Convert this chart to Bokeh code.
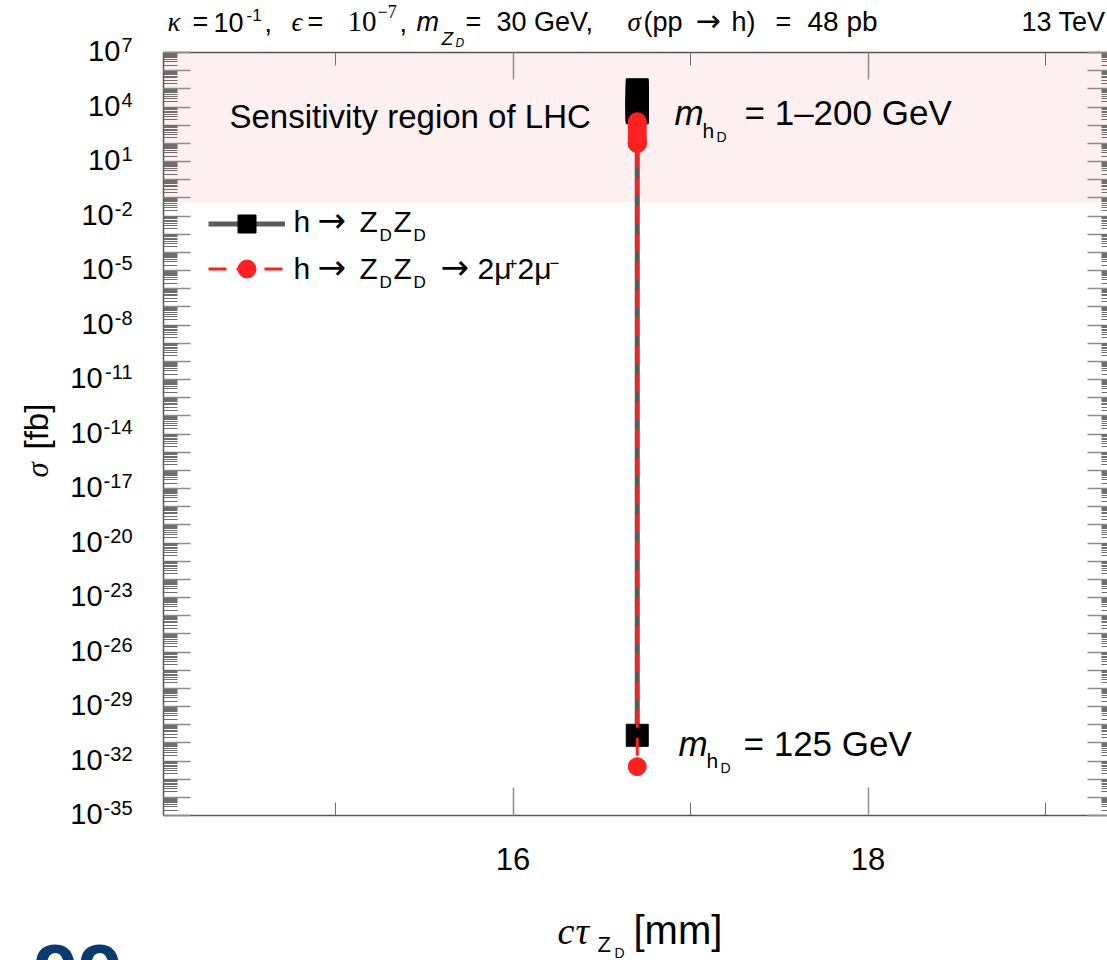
import math

from bokeh.plotting import figure
from bokeh.models import (Range1d, LinearAxis, LogAxis, FixedTicker, BoxAnnotation,
                          Label, Legend, LegendItem, CustomJSTickFormatter)
from bokeh.embed import file_html
from bokeh.resources import INLINE

# ---------------------------------------------------------------- data
# dark-Higgs mass scan at fixed kappa, epsilon and m_ZD (cτ of Z_D is constant)
m_hD_GeV = [1, 25, 50, 75, 100, 120, 125, 130, 150, 175, 200]
ctau_ZD_mm = [16.70, 16.70, 16.70, 16.70, 16.70, 16.70, 16.70, 16.70, 16.70, 16.70, 16.70]
sigma_h_ZDZD_fb = [8.9e4, 6.5e4, 4.2e4, 2.6e4, 1.4e4, 6.0e3, 2.6e-31, 5.8e3, 9.5e3, 7.0e3, 4.8e3]
sigma_h_4mu_fb = [1.55e3, 1.13e3, 7.3e2, 4.5e2, 2.4e2, 1.05e2, 4.9e-33, 1.0e2, 1.65e2, 1.2e2, 9.8e1]
lhc_sensitivity_fb = 0.055

x_major_ticks = [16, 18]
x_minor_ticks = [15, 17, 19]
y_decade_exponents = list(range(-35, 8))
y_labeled_exponents = [7, 4, 1, -2, -5, -8, -11, -14, -17, -20, -23, -26, -29, -32, -35]

# ---------------------------------------------------------------- geometry
# The frame spans the whole canvas; the axes sit at fixed locations so that
# every text (header, tick labels, axis titles) is drawn inside the frame.
W, H = 1107, 960
FL, FT, FB, FR = 163, 52, 815, 1111      # plot box edges in canvas px
X16_PX, PX_PER_UNIT = 512.5, 177.5
PX_PER_DECADE = (FB - FT) / 42.0
Y_BOTTOM, Y_TOP = 1e-35, 1e7
BASELINE_FIX = 0.42                      # em shift so labels sit on their baseline


def x_at(px):
    return 16 + (px - X16_PX) / PX_PER_UNIT


def y_at(px):
    return 10 ** (7 - (px - FT) / PX_PER_DECADE)


X_BOX_LEFT, X_BOX_RIGHT = x_at(FL), x_at(FR)

SANS = "Liberation Sans"
SERIF = "Liberation Serif"
ARROW = "DejaVu Sans"
AXIS_GREY = "#555555"
TICK_GREY = "#8c8c8c"

# approximate advance widths (em) for right-aligned exponents
EM = {"-": .333}

p = figure(width=W, height=H, x_range=Range1d(x_at(0), x_at(W)),
           y_range=Range1d(y_at(H), y_at(0)), y_axis_type="log",
           output_backend="svg", toolbar_location=None, min_border=0,
           outline_line_color=None, background_fill_color="white",
           border_fill_color="white")
p.xgrid.visible = False
p.ygrid.visible = False

x_ticker = FixedTicker(ticks=x_major_ticks, minor_ticks=x_minor_ticks)
y_ticker = FixedTicker(ticks=[10.0 ** e for e in y_decade_exponents],
                       minor_ticks=[m * 10.0 ** e for e in y_decade_exponents[:-1]
                                    for m in range(2, 10)])
no_labels = CustomJSTickFormatter(code="return ''")


def style_axis(ax, major_in, minor_in, show_line=True):
    ax.major_tick_in = major_in
    ax.major_tick_out = 0
    ax.minor_tick_in = minor_in
    ax.minor_tick_out = 0
    ax.major_tick_line_color = TICK_GREY
    ax.minor_tick_line_color = "#6e6e6e"
    ax.major_tick_line_width = 1.5
    ax.axis_line_color = AXIS_GREY if show_line else None
    ax.axis_line_width = 1.5


# bottom axis: labelled 16, 18
xb = p.xaxis[0]
xb.ticker = x_ticker
xb.fixed_location = Y_BOTTOM
xb.bounds = (X_BOX_LEFT, X_BOX_RIGHT)
style_axis(xb, 28, 13)
xb.major_label_text_font = SANS
xb.major_label_text_font_size = "31px"
xb.major_label_text_color = "black"
xb.major_label_standoff = 32

# left axis: decade ticks, labels drawn as 10^n text below
yl = p.yaxis[0]
yl.ticker = y_ticker
yl.formatter = no_labels
yl.fixed_location = X_BOX_LEFT
yl.bounds = (Y_BOTTOM, Y_TOP)
style_axis(yl, 27, 14)

top_axis = LinearAxis(ticker=x_ticker, formatter=no_labels, fixed_location=Y_TOP,
                      bounds=(X_BOX_LEFT, X_BOX_RIGHT))
style_axis(top_axis, 27, 13)
p.add_layout(top_axis, "above")

right_axis = LogAxis(ticker=y_ticker, formatter=no_labels, fixed_location=X_BOX_RIGHT,
                     bounds=(Y_BOTTOM, Y_TOP))
style_axis(right_axis, 24, 10, show_line=False)
p.add_layout(right_axis, "right")

# LHC sensitivity band
p.add_layout(BoxAnnotation(left=X_BOX_LEFT, right=X_BOX_RIGHT, bottom=lhc_sensitivity_fb,
                           top=Y_TOP, fill_color="#fef0f0", fill_alpha=1.0,
                           line_color=None, level="underlay"))

# series; the connecting lines run through the points ordered by cross section
zz_order = sorted(range(len(m_hD_GeV)), key=lambda i: -sigma_h_ZDZD_fb[i])
mu_order = sorted(range(len(m_hD_GeV)), key=lambda i: -sigma_h_4mu_fb[i])
r_zz_line = p.line([ctau_ZD_mm[i] for i in zz_order], [sigma_h_ZDZD_fb[i] for i in zz_order],
                   line_color="#5a5a5a", line_width=5)
r_zz_pts = p.scatter(ctau_ZD_mm, sigma_h_ZDZD_fb, marker="square", size=22,
                     fill_color="black", line_color="black")
r_mu_line = p.line([ctau_ZD_mm[i] for i in mu_order], [sigma_h_4mu_fb[i] for i in mu_order],
                   line_color="#ff2020", line_width=3, line_dash="18 10")
r_mu_pts = p.scatter(ctau_ZD_mm, sigma_h_4mu_fb, marker="circle", size=18,
                     fill_color="#ff2020", line_color="#ff2020")

legend = Legend(items=[LegendItem(label="", renderers=[r_zz_line, r_zz_pts]),
                       LegendItem(label="", renderers=[r_mu_line, r_mu_pts])],
                location=(208, H - 291), glyph_width=77, glyph_height=45,
                spacing=0, padding=0, margin=0, label_standoff=0,
                label_text_font_size="20px", border_line_alpha=0,
                background_fill_alpha=0)
p.add_layout(legend)


# ---------------------------------------------------------------- text helpers
def text_width(text, size):
    return sum(EM.get(ch, .556) for ch in text) * size


def px_label(x_px, base_px, text, size, font=SANS, style="normal", align="left",
             color="black", angle=0.0):
    fix = BASELINE_FIX * size
    if angle:
        xo, yo = x_px - FL - fix, FT - base_px
    else:
        xo, yo = x_px - FL, FT - base_px + fix
    p.add_layout(Label(x=X_BOX_LEFT, y=Y_TOP, x_offset=xo, y_offset=yo,
                       text=text, text_font=font, text_font_size=f"{size}px",
                       text_font_style=style, text_align=align,
                       text_baseline="alphabetic", text_color=color, angle=angle))


def put_runs(base_px, runs):
    """runs: (x px, text, size, font, style, baseline shift up)"""
    for x_px, text, size, font, style, dy in runs:
        px_label(x_px, base_px - dy, text, size, font, style)


# y tick labels: 10^n
for e in y_labeled_exponents:
    exp_txt = str(e)
    tick_px = FT + (7 - e) * PX_PER_DECADE
    exp_w = text_width(exp_txt, 20)
    px_label(132, tick_px + 1, exp_txt, 20, align="right")
    px_label(132 - exp_w - 1, tick_px + 11, "10", 29, align="right")

# header line
put_runs(33, [
    (167, "κ", 27, SERIF, "italic", 0),
    (192, "=", 27, SANS, "normal", 0),
    (213, "10", 27, SANS, "normal", 0),
    (246, "-1", 17, SANS, "normal", 11),
    (264, ",", 27, SANS, "normal", 0),
    (291, "ϵ", 27, SERIF, "italic", 0),
    (307, "=", 27, SANS, "normal", 0),
    (347, "10", 29, SERIF, "normal", 0),
    (377, "−7", 18, SERIF, "normal", 14),
    (399, ",", 27, SANS, "normal", 0),
    (416, "m", 27, SANS, "italic", 0),
    (441, "Z", 19, SANS, "italic", -13),
    (455, "D", 12, SANS, "italic", -15),
    (465, "=", 27, SANS, "normal", 0),
    (496, "30 GeV,", 27, SANS, "normal", 0),
    (627, "σ", 27, SERIF, "italic", 0),
    (643, "(pp", 27, SANS, "normal", 0),
    (695, "→", 30, ARROW, "normal", 0),
    (731, "h)", 27, SANS, "normal", 0),
    (775, "=", 27, SANS, "normal", 0),
    (807, "48 pb", 28, SANS, "normal", 0),
])
px_label(1105, 33, "13 TeV", 27, align="right")

# in-frame annotations
px_label(229, 130, "Sensitivity region of LHC", 33)
put_runs(127, [
    (674, "m", 35, SANS, "italic", 0),
    (702, "h", 21, SANS, "normal", -12),
    (716, "D", 14, SANS, "normal", -15),
    (744, "= 1–200 GeV", 35, SANS, "normal", 0),
])
put_runs(758, [
    (678, "m", 35, SANS, "italic", 0),
    (706, "h", 21, SANS, "normal", -11),
    (720, "D", 14, SANS, "normal", -15),
    (743, "= 125 GeV", 35, SANS, "normal", 0),
])

# legend texts
for base in (234, 281):
    put_runs(base, [
        (293, "h", 30, SANS, "normal", 0),
        (317, "→", 34, ARROW, "normal", 0),
        (359, "Z", 30, SANS, "normal", 0),
        (379, "D", 17, SANS, "normal", -8),
        (393, "Z", 30, SANS, "normal", 0),
        (413, "D", 17, SANS, "normal", -8),
    ])
put_runs(281, [
    (440, "→", 34, ARROW, "normal", 0),
    (477, "2μ", 30, SANS, "normal", 0),
    (507, "+", 17, SANS, "normal", 11),
    (517, "2μ", 30, SANS, "normal", 0),
    (549, "−", 17, SANS, "normal", 11),
])

# axis titles
put_runs(946, [
    (557, "c", 38, SERIF, "italic", 0),
    (575, "τ", 38, SERIF, "italic", 0),
    (597, "Z", 22, SANS, "normal", -7),
    (614, "D", 14, SANS, "normal", -12),
    (633, "[mm]", 40, SANS, "normal", 0),
])
px_label(50, 477, "σ", 31, SERIF, "italic", angle=math.pi / 2)
px_label(50, 449, "[fb]", 33, SANS, "normal", angle=math.pi / 2)

px_label(33, 1006, "99", 80, style="bold", color="#0b3a6e")

open("out.html", "w").write(file_html(p, INLINE))
